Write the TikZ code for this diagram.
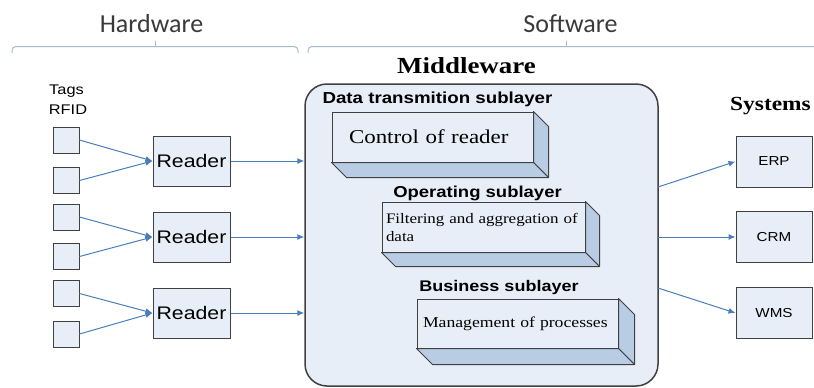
\documentclass[tikz,border=0pt]{standalone}
\usepackage{fontspec}
\setmainfont{Liberation Serif}
\newfontfamily\sansw[FakeStretch=1.17]{Liberation Sans}
\newfontfamily\serifw[FakeStretch=1.17]{Liberation Serif}
\newfontfamily\calfont{Carlito}
\usetikzlibrary{arrows.meta,calc}
\definecolor{boxfill}{HTML}{E8EEF8}
\definecolor{sidefill}{HTML}{B8CCE4}
\definecolor{bord}{HTML}{404040}
\definecolor{arrowblue}{HTML}{4A7EBB}
\definecolor{bracecol}{HTML}{A7B9CD}
\definecolor{headgray}{HTML}{3A3A3A}
\tikzset{
  lbl/.style={inner sep=0pt, anchor=base},
  headlbl/.style={lbl, text=headgray, font={\calfont\fontsize{26}{30}\selectfont}},
  sublbl/.style={lbl, font={\sansw\bfseries\fontsize{15.8}{19}\selectfont}},
  taglbl/.style={lbl, font={\sansw\fontsize{14}{17}\selectfont}},
  bracepath/.style={draw=bracecol, line width=1pt, rounded corners=4pt},
  tagbox/.style={draw=bord, fill=boxfill, line width=1pt, minimum width=26pt, minimum height=26pt, inner sep=0pt},
  rdrbox/.style={draw=bord, fill=boxfill, line width=1pt, minimum width=77pt, minimum height=50pt, inner sep=0pt, font={\sansw\fontsize{18.2}{22}\selectfont}},
  sysbox/.style={draw=bord, fill=boxfill, line width=1pt, minimum width=76pt, minimum height=51pt, inner sep=0pt, font={\sansw\fontsize{13}{15}\selectfont}},
  mwbox/.style={draw=bord, fill=boxfill, line width=1.5pt, rounded corners=22pt, minimum width=353pt, minimum height=302pt},
  frontface/.style={draw=bord, fill=boxfill, line width=1pt, minimum height=50pt, align=left, inner ysep=0pt},
  sideface/.style={draw=bord, fill=sidefill, line width=1pt, line join=round},
  arrowln/.style={draw=arrowblue, line width=1pt, -{Latex[length=7pt,width=6pt]}},
}
\begin{document}
\begin{tikzpicture}[x=1pt,y=-1pt]
\useasboundingbox (0,0) rectangle (814,388);
% braces
\draw[bracepath] (12,53) -- (12,46.5) -- (298,46.5) -- (298,53);
\draw[draw=bracecol, line width=1pt] (155,46.5) -- (155,41);
\draw[bracepath] (308,53) -- (308,46.5) -- (820,46.5);
\draw[draw=bracecol, line width=1pt] (566,46.5) -- (566,41);
\node[headlbl] (hw) at (151.5,32) {Hardware};
\node[headlbl] (sw) at (570.5,32) {Software};
% middleware
\node[lbl, font={\serifw\bfseries\fontsize{23}{27}\selectfont}] (mwt) at (466.5,73) {Middleware};
\node[mwbox] (mw) at (481.5,235) {};
\node[sublbl, font={\sansw\bfseries\fontsize{16}{19}\selectfont}] (dts) at (437.5,103) {Data transmition sublayer};
\node[sublbl] (ops) at (477.5,197) {Operating sublayer};
\node[sublbl, font={\sansw\bfseries\fontsize{15.4}{19}\selectfont}] (bus) at (499,291) {Business sublayer};
\node[frontface, minimum width=201pt, text width=167pt, inner xsep=17pt, font={\serifw\fontsize{19.6}{23}\selectfont}] (c1) at (432.5,137) {Control of reader};
\node[frontface, minimum width=203pt, text width=195pt, inner xsep=4pt, font={\serifw\fontsize{14.5}{18}\selectfont}] (c2) at (483.5,227) {Filtering and aggregation of\\data};
\node[frontface, minimum width=201pt, minimum height=49pt, text width=189pt, inner xsep=6pt, font={\serifw\fontsize{15.1}{18}\selectfont}] (c3) at (517.5,323.5) {Management of processes};
\foreach \b/\d in {c1/15,c2/14,c3/16}{
  \draw[sideface] (\b.north east) -- ++(\d,\d) -- ($(\b.south east)+(\d,\d)$) -- (\b.south east) -- cycle;
  \draw[sideface] (\b.south west) -- ++(\d,\d) -- ($(\b.south east)+(\d,\d)$) -- (\b.south east) -- cycle;
}
% tags
\node[taglbl] (tg1) at (66.5,94) {Tags};
\node[taglbl] (tg2) at (68,114) {RFID};
\node[tagbox] (t1) at (66,140) {};
\node[tagbox] (t2) at (66,180.5) {};
\node[tagbox] (t3) at (66,217) {};
\node[tagbox] (t4) at (66,256.5) {};
\node[tagbox] (t5) at (66,293.5) {};
\node[tagbox] (t6) at (66,334) {};
% readers
\node[rdrbox] (r1) at (191.5,161) {Reader};
\node[rdrbox] (r2) at (191.5,237) {Reader};
\node[rdrbox] (r3) at (191.5,313) {Reader};
\draw[arrowln] (t1.east) -- (r1.west);
\draw[arrowln] (t2.east) -- (r1.west);
\draw[arrowln] (t3.east) -- (r2.west);
\draw[arrowln] (t4.east) -- (r2.west);
\draw[arrowln] (t5.east) -- (r3.west);
\draw[arrowln] (t6.east) -- (r3.west);
\draw[arrowln] (r1.east) -- (r1.east -| mw.west);
\draw[arrowln] (r2.east) -- (r2.east -| mw.west);
\draw[arrowln] (r3.east) -- (r3.east -| mw.west);
% systems
\node[lbl, font={\serifw\bfseries\fontsize{20}{24}\selectfont}] (syst) at (770.5,110) {Systems};
\node[sysbox] (erp) at (774,161.5) {ERP};
\node[sysbox] (crm) at (774,237) {CRM};
\node[sysbox] (wms) at (774,313) {WMS};
\coordinate (o1) at (658,187);
\coordinate (o2) at (658,237);
\coordinate (o3) at (658,288);
\draw[arrowln] (o1) -- (erp.west);
\draw[arrowln] (o2) -- (crm.west);
\draw[arrowln] (o3) -- (wms.west);
\end{tikzpicture}
\end{document}
